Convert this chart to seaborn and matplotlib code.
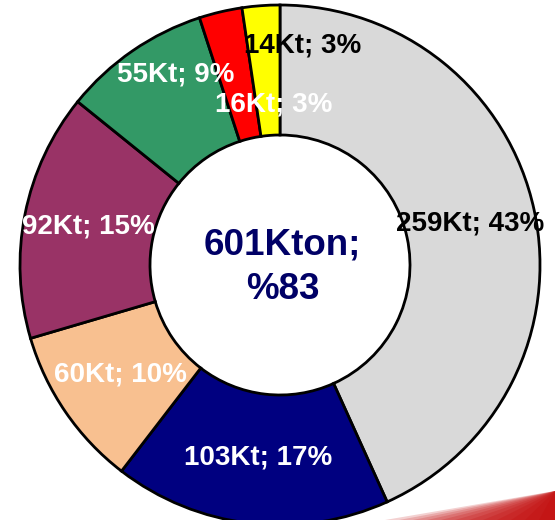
import numpy as np
import matplotlib
matplotlib.use('Agg')
import matplotlib.pyplot as plt
import seaborn as sns
from matplotlib.patches import Polygon

# 데이터
values = [259, 103, 60, 92, 55, 16, 14]
pcts = [43, 17, 10, 15, 9, 3, 3]
colors = ['#d9d9d9', '#000080', '#f8c090', '#993366', '#339966', '#ff0000', '#ffff00']
text_colors = ['black', 'white', 'white', 'white', 'white', 'white', 'black']
center_text = '601Kton;\n%83'

sns.set_theme(style='white')
plt.rcParams['font.family'] = ['Liberation Sans', 'DejaVu Sans']

fig = plt.figure(figsize=(5.55, 5.2), dpi=100)
ax = fig.add_axes([0, 0, 1, 1])

wedges, _ = ax.pie(values, colors=colors, startangle=90, counterclock=False,
                   radius=1.0, wedgeprops=dict(width=0.5, edgecolor='black', linewidth=2))

# 라벨 위치 (반지름, 각도 보정)
r_adj = [0.75, 0.745, 0.745, 0.75, 0.835, 0.616, 0.85]
a_adj = [0, 0, 0, 0, -5.7, -11, -10]
total = sum(values)
cum = 0
for i, (v, p) in enumerate(zip(values, pcts)):
    mid = cum + v / 2
    cum += v
    ang = np.deg2rad(90 - 360 * mid / total + a_adj[i])
    ax.text(r_adj[i] * np.cos(ang), r_adj[i] * np.sin(ang), f'{v}Kt; {p}%',
            ha='center', va='center', fontsize=20, fontweight='bold',
            color=text_colors[i])

ax.text(0.01, -0.01, center_text, ha='center', va='center', fontsize=26.5,
        fontweight='bold', color='#000066', linespacing=1.35)

ax.set_aspect('equal')
ax.set_xlim(-280 / 260, 275 / 260)
ax.set_ylim(-255 / 260, 265 / 260)
ax.axis('off')

# 오른쪽 아래 장식 (그라데이션)
for k in range(12):
    x0 = 385 + k * 14
    fig.patches.append(Polygon([(x0 / 555, 0), (1, 29 / 520), (1, 0)], closed=True,
                               transform=fig.transFigure, facecolor='#c00000',
                               edgecolor='none', alpha=0.18))

fig.savefig('out.png', dpi=100)
